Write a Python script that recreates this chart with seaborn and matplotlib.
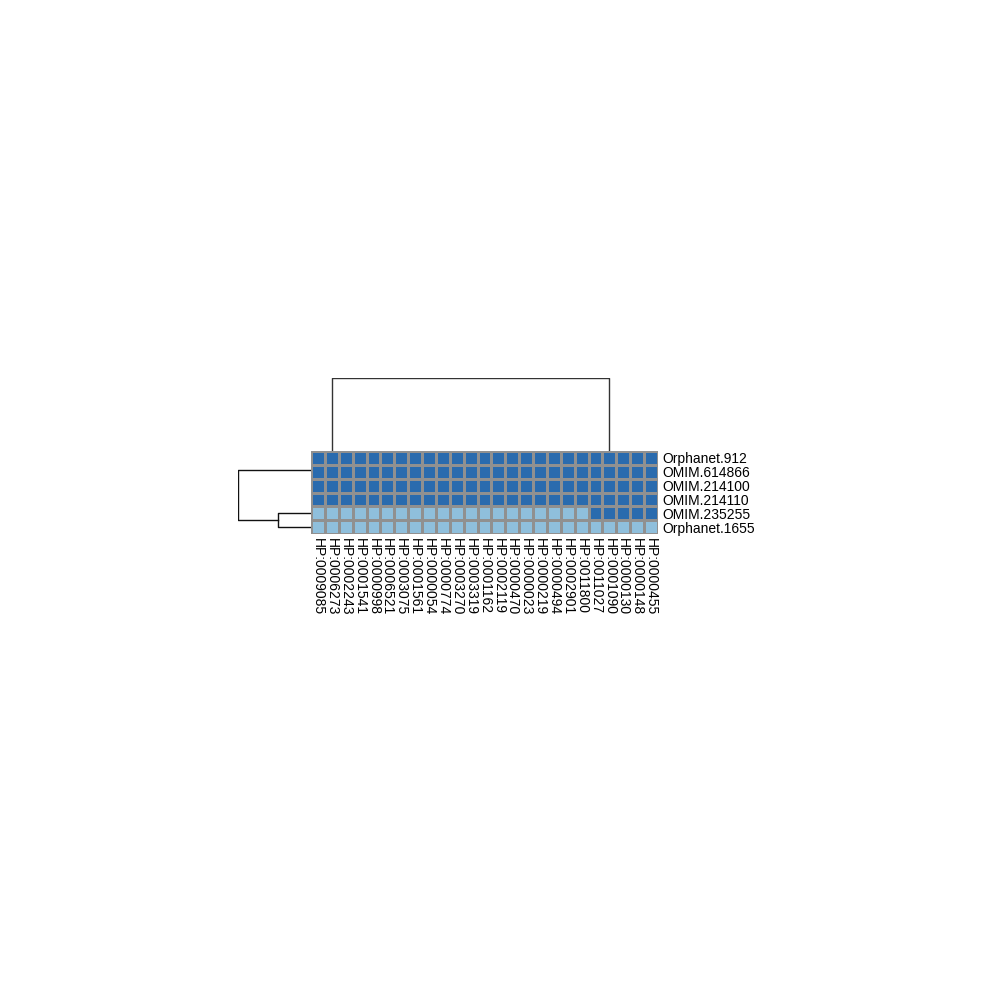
import numpy as np
import pandas as pd
import seaborn as sns
import matplotlib.pyplot as plt
from matplotlib.colors import ListedColormap

# row / column labels in clustered order
row_labels = ['Orphanet.912', 'OMIM.614866', 'OMIM.214100', 'OMIM.214110',
              'OMIM.235255', 'Orphanet.1655']
col_labels = ['HP:0009085', 'HP:0006273', 'HP:0002243', 'HP:0001541', 'HP:0000998',
              'HP:0006521', 'HP:0003075', 'HP:0001561', 'HP:0000054', 'HP:0000774',
              'HP:0003270', 'HP:0003319', 'HP:0001162', 'HP:0002119', 'HP:0000470',
              'HP:0000023', 'HP:0000219', 'HP:0000494', 'HP:0002901', 'HP:0011800',
              'HP:0011027', 'HP:0001090', 'HP:0000130', 'HP:0000148', 'HP:0000455']

# 1 = annotated, 0 = not annotated
row_912 = [1] * 25
row_614866 = [1] * 25
row_214100 = [1] * 25
row_214110 = [1] * 25
row_235255 = [0] * 20 + [1] * 5
row_1655 = [0] * 25

# dendrogram structure (nested tuples of leaf index, merge height)
row_tree = (((0, ((1, ((2, 3), 0.0)), 0.0)), 0.0), ((4, 5), 2.236), 5.0)
col_left = 19
for k in range(18, -1, -1):
    col_left = (k, col_left, 0.0)
col_right = 24
for k in range(23, 19, -1):
    col_right = (k, col_right, 0.0)
col_tree = (col_left, col_right, 1.0)

dark = '#2A6BAE'
light = '#8FBFDC'

df = pd.DataFrame([row_912, row_614866, row_214100, row_214110, row_235255, row_1655],
                  index=row_labels, columns=col_labels)


def norm(node):
    # turn (a, b) / ((a, b), h) / (a, b, h) into (left, right, h)
    if isinstance(node, int):
        return node
    if len(node) == 3:
        return (norm(node[0]), norm(node[1]), node[2])
    a, h = node
    if isinstance(h, tuple) or isinstance(h, int):
        return (norm(a), norm(h), 0.0)
    return (norm(a[0]), norm(a[1]), h)


def segments(node, out):
    # returns (position, height) of node, appends U-shaped links
    if isinstance(node, int):
        return node + 0.5, 0.0
    l, r, h = node
    pl, hl = segments(l, out)
    pr, hr = segments(r, out)
    if h > 0:
        out.append(([pl, pl, pr, pr], [hl, h, h, hr]))
    return (pl + pr) / 2, h


plt.rcParams['font.family'] = ['Liberation Sans', 'DejaVu Sans']
fig = plt.figure(figsize=(10, 10), dpi=100)

ax = fig.add_axes([0.311, 0.466, 0.347, 0.083])
sns.heatmap(df, ax=ax, cmap=ListedColormap([light, dark]), cbar=False,
            linewidths=1.0, linecolor='#909090', vmin=0, vmax=1,
            antialiased=False)
ax.yaxis.tick_right()
ax.set_yticks(np.arange(len(row_labels)) + 0.5)
ax.set_yticklabels(row_labels, rotation=0, fontsize=10)
ax.set_xticks(np.arange(len(col_labels)) + 0.5)
ax.set_xticklabels(col_labels, rotation=-90, fontsize=10, va='top')
ax.tick_params(length=0, pad=3)
ax.set_xlabel('')
ax.set_ylabel('')

# column dendrogram
axc = fig.add_axes([0.311, 0.549, 0.347, 0.073])
segs = []
segments(norm(col_tree), segs)
top = max(max(y) for _, y in segs)
for xs, ys in segs:
    axc.plot(xs, ys, color='#333333', lw=1)
axc.set_xlim(0, len(col_labels))
axc.set_ylim(0, top)
axc.axis('off')

# row dendrogram
axr = fig.add_axes([0.238, 0.466, 0.073, 0.083])
segs = []
segments(norm(row_tree), segs)
top = max(max(y) for _, y in segs)
for ys, xs in segs:
    axr.plot(xs, ys, color='#111111', lw=1)
axr.set_ylim(len(row_labels), 0)
axr.set_xlim(top, 0)
axr.axis('off')

fig.savefig('out.png', dpi=100)
